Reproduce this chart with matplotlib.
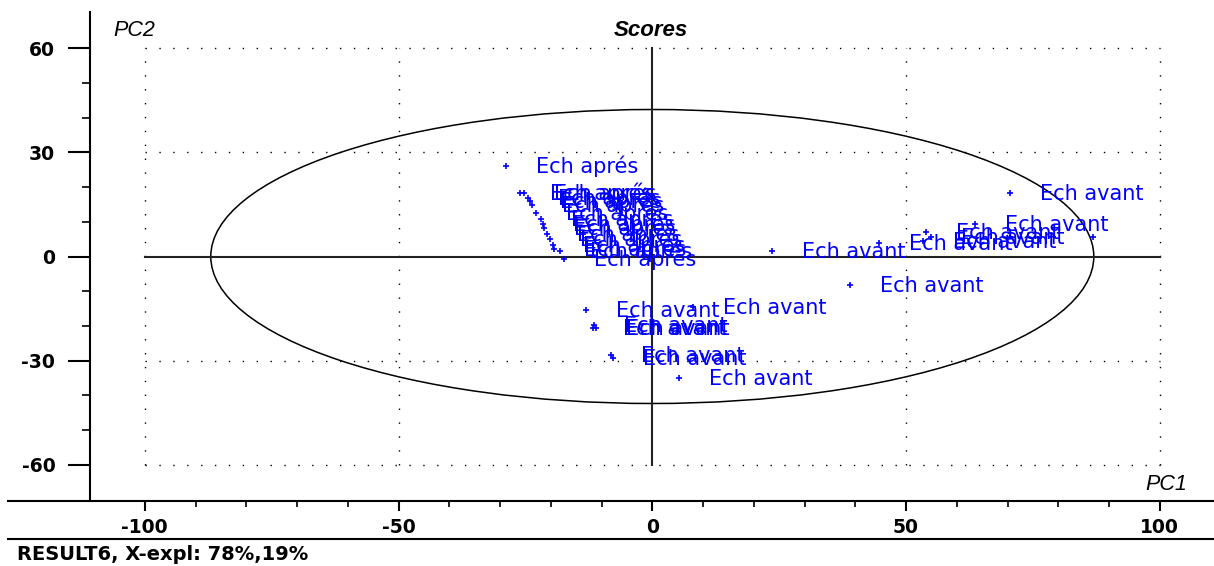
import matplotlib.pyplot as plt
from matplotlib.lines import Line2D
from matplotlib.patches import Ellipse

plt.rcParams['axes.unicode_minus'] = False

# score values (PC1, PC2)
apres_x = [-28.8, -26.0, -25.3, -24.5, -24.1, -23.8, -22.9, -22.0, -21.6, -21.3,
           -20.7, -20.1, -19.6, -19.3, -18.1, -17.4]
apres_y = [26.0, 18.4, 18.4, 16.7, 15.9, 14.8, 12.6, 10.7, 9.4, 8.3,
           6.6, 4.9, 3.3, 2.1, 1.6, -0.8]

avant_x = [70.5, 63.6, 54.0, 55.0, 53.4, 44.7, 86.9, 23.6, 39.0,
           -13.0, -11.4, -11.7, -11.0, 8.1, -8.1, -7.7, 5.3]
avant_y = [18.4, 9.4, 7.1, 5.6, 4.5, 3.9, 5.6, 1.6, -8.2,
           -15.4, -19.7, -20.6, -20.6, -14.5, -28.3, -29.3, -35.0]
avant_lab = ['Ech avant'] * len(avant_x)
avant_lab[6] = ''

apres_lab = ['Ech aprés'] * len(apres_x)

xticks = [-100, -50, 0, 50, 100]
yticks = [-60, -30, 0, 30, 60]
ell_w, ell_h = 174, 84.6

W, H = 1214, 566
fig = plt.figure(figsize=(W / 100, H / 100), dpi=100)
ax = fig.add_axes([90 / W, 65 / H, 1119 / W, 489 / H])
ax.set_xlim(-110.8, 109.7)
ax.set_ylim(-70.36, 70.36)

for s in ['top', 'right', 'bottom']:
    ax.spines[s].set_visible(False)
ax.spines['left'].set_linewidth(1.5)

ax.set_xticks(xticks)
ax.set_xticks(range(-100, 101, 10), minor=True)
ax.set_yticks(yticks)
ax.set_yticks(range(-60, 61, 10), minor=True)
ax.tick_params(axis='x', which='major', direction='out', length=7, width=1.5, pad=5)
ax.tick_params(axis='x', which='minor', direction='out', length=4, width=1.2)
ax.tick_params(axis='y', which='major', direction='out', length=16, width=1.5, pad=9)
ax.tick_params(axis='y', which='minor', direction='out', length=5.5, width=1.2)
for lab in ax.get_xticklabels() + ax.get_yticklabels():
    lab.set_fontsize(13.5)
    lab.set_fontweight('bold')

# dotted frame grid
dot = dict(color='black', lw=1.0, ls=(0, (1, 9)))
for gx in [-100, -50, 50, 100]:
    ax.plot([gx, gx], [-60, 60], **dot)
for gy in [-60, -30, 30, 60]:
    ax.plot([-100, 100], [gy, gy], **dot)

# solid cross
ax.plot([-100, 100], [0, 0], color='#222222', lw=1.5)
ax.plot([0, 0], [-60, 60], color='#222222', lw=1.5)

ax.add_patch(Ellipse((0, 0), ell_w, ell_h, fill=False, ec='black', lw=1.1))

blue = '#0000ff'
ax.plot(apres_x, apres_y, '+', color=blue, ms=5, mew=1.2)
ax.plot(avant_x, avant_y, '+', color=blue, ms=5, mew=1.2)
for x, y, t in zip(apres_x + avant_x, apres_y + avant_y, apres_lab + avant_lab):
    if t:
        ax.annotate(t, (x, y), xytext=(21.6, -5), textcoords='offset points',
                    va='baseline', ha='left', color=blue, fontsize=15)

# frame lines below the plot
fig.add_artist(Line2D([8 / W, 1], [1 - 501 / H] * 2, color='black', lw=1.5))
fig.add_artist(Line2D([8 / W, 1], [1 - 539 / H] * 2, color='black', lw=1.5))

fig.text(113 / W, 1 - 30 / H, 'PC2', fontsize=15.5, style='italic',
         family='Liberation Sans', va='center', ha='left')
fig.text(651 / W, 1 - 30 / H, 'Scores', fontsize=16, style='italic', weight='bold',
         family='Liberation Sans', va='center', ha='center')
fig.text(1145 / W, 1 - 484 / H, 'PC1', fontsize=15.5, style='italic',
         family='Liberation Sans', va='center', ha='left')
fig.text(17 / W, 1 - 555 / H, 'RESULT6, X-expl: 78%,19%', fontsize=14,
         weight='bold', va='center', ha='left')

fig.savefig('out.png', dpi=100)
